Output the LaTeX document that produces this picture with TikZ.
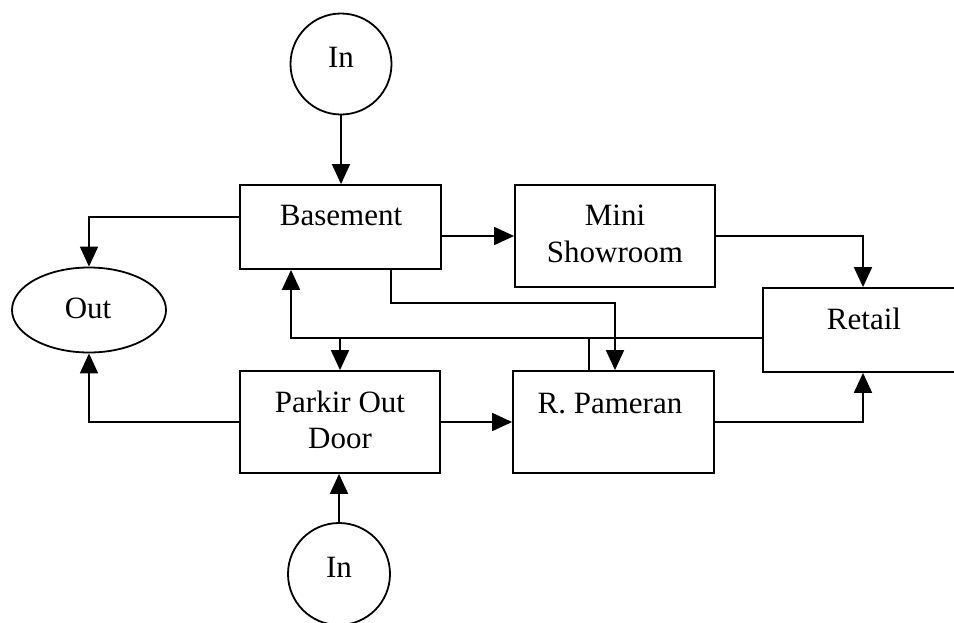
\documentclass[tikz,border=0pt]{standalone}
\usepackage{fontspec}
\setmainfont{Liberation Serif}
\usetikzlibrary{arrows.meta,shapes.geometric}
\begin{document}
\begin{tikzpicture}[x=1pt,y=-1pt,
  line width=1.8pt,
  arr/.style={-{Triangle[length=20pt,width=18pt]}},
  boxnode/.style={draw,rectangle,inner sep=0pt},
  lbl/.style={anchor=base,inner sep=0pt,font=\fontsize{31}{36}\selectfont}]
\useasboundingbox (0,0) rectangle (954,622);
\clip (0,0) rectangle (954,622);
% boxes
\node[draw,circle,minimum size=101pt,inner sep=0pt] (inTop) at (341,64) {};
\node[boxnode,minimum width=201pt,minimum height=84pt] (base) at (340.5,227) {};
\node[boxnode,minimum width=200pt,minimum height=102pt] (mini) at (615,236) {};
\node[boxnode,minimum width=200pt,minimum height=84pt] (retail) at (863,330) {};
\node[draw,ellipse,minimum width=154pt,minimum height=85pt,inner sep=0pt] (out) at (89,310) {};
\node[boxnode,minimum width=200pt,minimum height=102pt] (parkir) at (340,422) {};
\node[boxnode,minimum width=201pt,minimum height=102pt] (pam) at (613.5,422) {};
\node[draw,circle,minimum size=102pt,inner sep=0pt] (inBot) at (339,574) {};
% texts
\node[lbl] (inTopT) at (341,67) {In};
\node[lbl] (baseT) at (341,225) {Basement};
\node[lbl] (miniT1) at (615,225) {Mini};
\node[lbl] (miniT2) at (615,262) {Showroom};
\node[lbl] (retailT) at (864,329) {Retail};
\node[lbl] (outT) at (88,318) {Out};
\node[lbl] (parkirT1) at (340,412) {Parkir Out};
\node[lbl] (parkirT2) at (340,448) {Door};
\node[lbl] (pamT) at (610,413) {R. Pameran};
\node[lbl] (inBotT) at (339,577) {In};
% junction coordinates
\coordinate (b1) at (391,303);
\coordinate (c1) at (615,303);
\coordinate (j1) at (291,338);
\coordinate (j2) at (340,338);
\coordinate (j3) at (589,338);
% connectors
\draw[arr] (inTop.south) -- (inTop.south |- base.north);
\draw[arr] ([yshift=10pt]base.west) -| (out.north);
\draw[arr] (mini.west -| base.east) -- (mini.west);
\draw[arr] (mini.east) -| (retail.north);
\draw[arr] (b1 |- base.south) |- (c1) -- (c1 |- pam.north);
\draw[arr] ([yshift=-8pt]retail.west) -- (j1) -- (j1 |- base.south);
\draw[arr] (j2) -- (j2 |- parkir.north);
\draw (j3) -- (j3 |- pam.north);
\draw[arr] (parkir.west) -| (out.south);
\draw[arr] (parkir.east) -- (parkir.east -| pam.west);
\draw[arr] (pam.east) -| (retail.south);
\draw[arr] (inBot.north) -- (inBot.north |- parkir.south);
\end{tikzpicture}
\end{document}
